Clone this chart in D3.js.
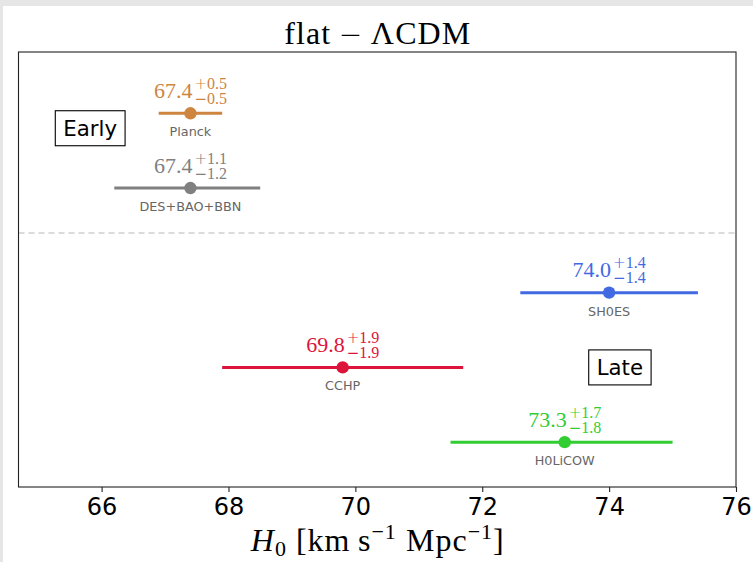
<!DOCTYPE html>
<html>
<head>
<meta charset="utf-8">
<script src="https://cdn.jsdelivr.net/npm/d3@7"></script>
<style>
  html, body { margin: 0; padding: 0; background: #e6e6e6; }
  svg { display: block; }
</style>
</head>
<body>
<svg id="chart" width="753" height="562"></svg>
<script>
// H0 measurements, early vs late universe
const names   = ["Planck", "DES+BAO+BBN", "SH0ES", "CCHP", "H0LiCOW"];
const centers = [67.4, 67.4, 74.0, 69.8, 73.3];
const errUp   = [0.5, 1.1, 1.4, 1.9, 1.7];
const errDown = [0.5, 1.2, 1.4, 1.9, 1.8];
const rowPos  = [4.4, 3.4, 2, 1, 0];
const colors  = ["#cd853f", "#808080", "#4169e1", "#dc143c", "#32cd32"];
const xTicks  = [66, 68, 70, 72, 74, 76];

const W = 753, H = 562;
const m = { left: 18.5, right: 736, top: 52, bottom: 487 };
const svg = d3.select("#chart");

svg.append("rect").attr("x", 3).attr("y", 6).attr("width", W).attr("height", H).attr("fill", "#fff");

const x = d3.scaleLinear().domain([64.69, 76]).range([m.left, m.right]);
const y = d3.scaleLinear().domain([-0.6, 5.22]).range([m.bottom, m.top]);

const MATH = "'Liberation Serif', 'DejaVu Serif', serif";
const SANS = "'DejaVu Sans', sans-serif";
const MINUS = "'DejaVu Sans', sans-serif";

// divider between early and late
svg.append("line")
  .attr("x1", m.left).attr("x2", m.right)
  .attr("y1", y(2.8)).attr("y2", y(2.8))
  .attr("stroke", "#d0d0d0").attr("stroke-width", 1.5)
  .attr("stroke-dasharray", "6 4");

const rows = names.map((n, i) => ({
  name: n, c: centers[i], up: errUp[i], dn: errDown[i], pos: rowPos[i], color: colors[i]
}));

const g = svg.append("g");
rows.forEach((d) => {
  const cy = y(d.pos);
  g.append("line")
    .attr("x1", x(d.c - d.dn)).attr("x2", x(d.c + d.up))
    .attr("y1", cy).attr("y2", cy)
    .attr("stroke", d.color).attr("stroke-width", 3);
  g.append("circle").attr("cx", x(d.c)).attr("cy", cy).attr("r", 6.2).attr("fill", d.color);

  g.append("text")
    .attr("x", x(d.c)).attr("y", cy + 23)
    .attr("text-anchor", "middle")
    .attr("font-family", SANS).attr("font-size", 12.8)
    .attr("fill", "#666")
    .text(d.name);

  // value with asymmetric errors, centred over the point
  const base = cy - 15.3;
  const lab = g.append("g");
  const main = lab.append("text").attr("y", base)
    .attr("font-family", MATH).attr("font-size", 22).attr("fill", d.color)
    .text(d.c.toFixed(1));
  const sup = lab.append("text").attr("y", base - 9)
    .attr("font-family", MATH).attr("font-size", 16).attr("fill", d.color);
  sup.append("tspan").attr("font-family", MINUS).attr("font-weight", 300).attr("font-size", 15).text("+");
  sup.append("tspan").text(d.up.toFixed(1));
  const sub = lab.append("text").attr("y", base + 5.8)
    .attr("font-family", MATH).attr("font-size", 16).attr("fill", d.color);
  sub.append("tspan").attr("font-family", MINUS).attr("font-size", 15).text("\u2212");
  sub.append("tspan").text(d.dn.toFixed(1));
  const wm = main.node().getComputedTextLength();
  const ws = Math.max(sup.node().getComputedTextLength(), sub.node().getComputedTextLength());
  const x0 = x(d.c) - (wm + 2 + ws) / 2;
  main.attr("x", x0);
  sup.attr("x", x0 + wm + 2);
  sub.attr("x", x0 + wm + 2);
});

// Early / Late boxed labels
[["Early", 65.82, 4.2], ["Late", 74.17, 1.0]].forEach(([t, vx, vy]) => {
  const cx = x(vx), cy = y(vy);
  const box = svg.append("g");
  const rect = box.append("rect")
    .attr("fill", "#fff").attr("stroke", "#000").attr("stroke-width", 1.1);
  const txt = box.append("text")
    .attr("x", cx).attr("y", cy + 7.3)
    .attr("text-anchor", "middle")
    .attr("font-family", SANS).attr("font-size", 21.3).attr("fill", "#000")
    .text(t);
  const w = txt.node().getComputedTextLength();
  rect.attr("x", cx - w / 2 - 8).attr("y", cy - 17.5)
    .attr("width", w + 16).attr("height", 35);
});

// frame
svg.append("rect")
  .attr("x", m.left).attr("y", m.top)
  .attr("width", m.right - m.left).attr("height", m.bottom - m.top)
  .attr("fill", "none").attr("stroke", "#222").attr("stroke-width", 1.1);

// x axis
const ax = svg.append("g").attr("transform", `translate(0,${m.bottom})`)
  .call(d3.axisBottom(x).tickValues(xTicks).tickSize(5).tickPadding(6).tickFormat(d3.format("d")));
ax.select(".domain").remove();
ax.selectAll("line").attr("stroke", "#222").attr("stroke-width", 1.1);
ax.selectAll("text").attr("font-family", SANS).attr("font-size", 24).attr("fill", "#000");

// title
const tt = svg.append("text")
  .attr("x", (m.left + m.right) / 2).attr("y", 44)
  .attr("text-anchor", "middle")
  .attr("font-family", MATH).attr("font-size", 32)
  .attr("textLength", 186).attr("lengthAdjust", "spacing");
tt.append("tspan").text("flat\u2009");
tt.append("tspan").attr("font-family", MINUS).attr("font-weight", 300).attr("font-size", 28).text("\u2212");
tt.append("tspan").text("\u2009\u039BCDM");

// x label
const xl = svg.append("text")
  .attr("x", (m.left + m.right) / 2).attr("y", 551)
  .attr("text-anchor", "middle")
  .attr("font-family", MATH).attr("font-size", 32)
  .attr("textLength", 253).attr("lengthAdjust", "spacing");
xl.append("tspan").attr("font-style", "italic").text("H");
xl.append("tspan").attr("font-size", 22).attr("dy", 5).text("0");
xl.append("tspan").attr("dy", -5).text("\u00A0[km\u2009s");
xl.append("tspan").attr("font-size", 22).attr("dy", -12).text("\u22121");
xl.append("tspan").attr("dy", 12).text("\u00A0Mpc");
xl.append("tspan").attr("font-size", 22).attr("dy", -12).text("\u22121");
xl.append("tspan").attr("dy", 12).text("]");
</script>
</body>
</html>
